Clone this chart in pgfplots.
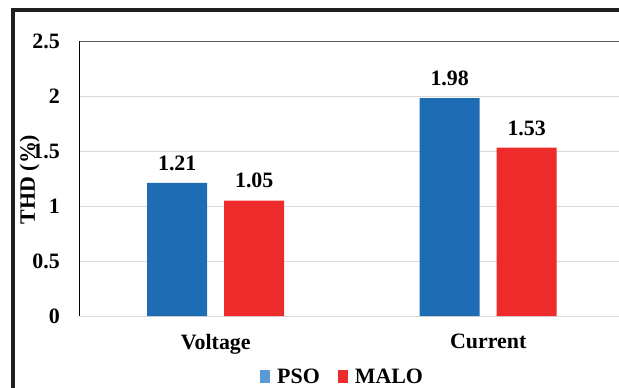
\documentclass[border=0pt]{standalone}
\usepackage{fontspec}
\setmainfont{Liberation Serif}
\usepackage{pgfplots}
\pgfplotsset{compat=1.18}
\definecolor{barblue}{RGB}{29,108,180}
\definecolor{legblue}{RGB}{91,155,213}
\definecolor{barred}{RGB}{238,43,43}
\definecolor{gridgray}{RGB}{217,217,217}
\definecolor{topgray}{RGB}{89,89,89}
\newcommand{\cf}{\bfseries\fontsize{22}{26}\selectfont}
\begin{document}
\begin{tikzpicture}
\clip (0bp,0bp) rectangle (619bp,388bp);
\fill[white] (0bp,0bp) rectangle (619bp,388bp);
\draw[line width=3.5bp, color=black!88, line join=miter] (13bp,-5bp) -- (13bp,378bp) -- (625bp,378bp);
\begin{axis}[
  at={(79.5bp,72bp)}, anchor=south west,
  scale only axis, width=539.5bp, height=275bp,
  /pgf/number format/assume math mode=true,
  ybar, bar width=60bp,
  xmin=-0.5, xmax=1.48, ymin=0, ymax=2.5,
  enlargelimits=false,
  xtick={0,1}, xticklabels={Voltage,Current},
  ytick={0,0.5,1,1.5,2,2.5},
  axis x line=bottom, axis y line=left,
  axis line style={-},
  x axis line style={draw=none},
  y axis line style={black, line width=1bp},
  major tick length=0pt,
  ymajorgrids, grid style={gridgray, line width=1bp},
  tick label style={font=\cf, inner sep=0pt},
  yticklabel style={anchor=east, xshift=-19.5bp},
  xticklabel style={anchor=north, yshift=-18bp},
  ylabel={THD (\%)},
  ylabel style={font=\cf, at={(rel axis cs:-0.0927,0.4964)}, anchor=center},
  clip=false,
  nodes near coords={\pgfmathprintnumber[fixed,precision=2,fixed zerofill]{\pgfplotspointmeta}},
  every node near coord/.append style={font=\cf, anchor=south, inner sep=0pt, yshift=12bp},
  legend style={at={(rel axis cs:0.3346,-0.2218)}, anchor=west, draw=none, fill=none,
    inner sep=0pt, font=\cf,
    /tikz/every odd column/.append style={column sep=5bp},
    /tikz/every even column/.append style={column sep=16bp}},
  legend columns=2,
  legend image code/.code={\fill[#1] (0bp,-6.5bp) rectangle (10bp,6.5bp);},
  extra description/.code={\draw[topgray, line width=1bp] (rel axis cs:0,1) -- (rel axis cs:1.02,1);},
]
\addplot[fill=barblue, draw=none, bar shift=-38.5bp, forget plot] coordinates {(0,1.21) (1,1.98)};
\addplot[fill=barred, draw=none, bar shift=38.5bp, forget plot] coordinates {(0,1.05) (1,1.53)};
\addlegendimage{fill=legblue, draw=none}
\addlegendentry{PSO}
\addlegendimage{fill=barred, draw=none}
\addlegendentry{MALO}
\end{axis}
\end{tikzpicture}
\end{document}
